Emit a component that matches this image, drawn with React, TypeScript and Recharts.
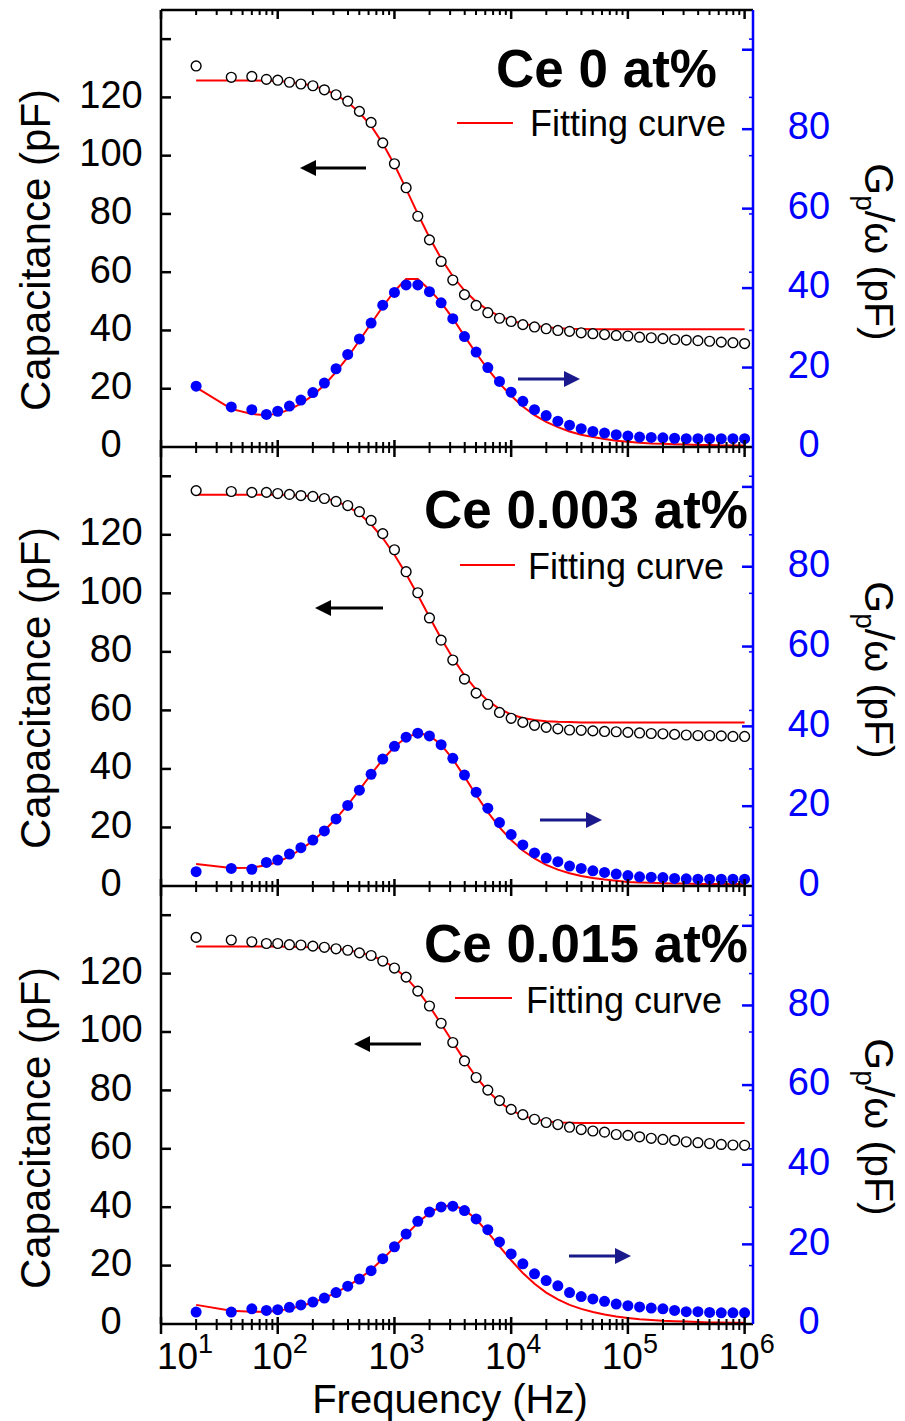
import React from "react";
import { ComposedChart, Line, XAxis, YAxis, ReferenceLine } from "recharts";

const W = 905;
const H = 1421;
const PLOT_W = 592; // 161 .. 753
const FONT = '"Liberation Sans", Arial, sans-serif';
const BLUE = "#0000ff";
const NAVY = "#1a1a8c";
const RED = "#ff0000";

// measurement frequencies (Hz)
const freq = [
  20, 40, 60, 80,
  100, 126, 158, 200, 251, 316, 398, 501, 631, 794,
  1000, 1259, 1585, 1995, 2512, 3162, 3981, 5012, 6310, 7943,
  10000, 12589, 15849, 19953, 25119, 31623, 39811, 50119, 63096, 79433,
  100000, 125893, 158489, 199526, 251189, 316228, 398107, 501187, 630957, 794328,
  1000000,
];

// Ce 0 at%
const cap0 = [
  130.8, 126.9, 127.2, 126.2,
  125.9, 125.2, 124.6, 124.0, 122.6, 120.9, 118.7, 115.2, 111.4, 104.4,
  97.2, 89.0, 79.2, 71.1, 63.7, 57.3, 52.3, 48.6, 46.1, 44.2,
  43.1, 42.0, 41.2, 40.6, 40.0, 39.7, 39.2, 38.9, 38.6, 38.3,
  38.1, 37.7, 37.5, 37.2, 36.9, 36.7, 36.5, 36.3, 36.0, 35.8,
  35.5,
];
const capFit0 = [
  125.8, 125.8, 125.8, 125.7,
  125.6, 125.3, 124.8, 124.0, 122.8, 120.9, 118.3, 114.8, 110.2, 104.2,
  96.9, 88.6, 80.0, 71.9, 64.7, 58.6, 53.7, 49.9, 47.0, 44.9,
  43.4, 42.3, 41.6, 41.1, 40.8, 40.6, 40.5, 40.4, 40.4, 40.4,
  40.4, 40.4, 40.4, 40.4, 40.4, 40.4, 40.4, 40.4, 40.4, 40.4,
  40.4,
];
const gp0 = [
  15.3, 10.1, 9.4, 8.2,
  9.0, 10.3, 11.8, 13.7, 16.1, 19.7, 23.3, 27.2, 31.2, 35.7,
  38.9, 40.8, 40.8, 39.1, 36.3, 32.3, 27.8, 23.9, 20.0, 16.5,
  13.8, 11.5, 9.4, 7.9, 6.5, 5.5, 4.6, 3.9, 3.5, 3.1,
  2.8, 2.5, 2.4, 2.3, 2.2, 2.1, 2.1, 2.1, 2.1, 2.1,
  2.1,
];
const gpFit0 = [
  15.0, 9.6, 8.3, 8.0,
  8.4, 9.4, 10.9, 13.0, 15.6, 18.9, 22.6, 26.8, 31.1, 35.3,
  39.2, 42.3, 42.3, 39.6, 36.4, 32.4, 27.9, 23.6, 19.6, 16.0,
  12.9, 10.2, 8.0, 6.3, 5.0, 3.9, 3.1, 2.5, 2.0, 1.6,
  1.3, 1.1, 0.9, 0.8, 0.7, 0.6, 0.5, 0.5, 0.4, 0.4,
  0.4,
];

// Ce 0.003 at%
const cap1 = [
  135.1, 134.8, 134.5, 134.5,
  134.1, 133.8, 133.4, 133.1, 132.4, 131.4, 130.0, 127.9, 124.9, 120.4,
  114.9, 107.4, 100.2, 91.6, 84.0, 77.2, 70.7, 65.9, 62.1, 59.3,
  57.3, 55.9, 54.9, 54.2, 53.7, 53.3, 53.2, 53.0, 52.8, 52.7,
  52.5, 52.3, 52.1, 52.0, 51.8, 51.6, 51.4, 51.4, 51.3, 51.1,
  51.1,
];
const capFit1 = [
  133.7, 133.7, 133.7, 133.7,
  133.7, 133.6, 133.4, 133.1, 132.6, 131.5, 129.7, 127.2, 123.6, 118.9,
  113.2, 106.6, 99.4, 91.9, 84.6, 77.9, 72.0, 67.1, 63.3, 60.5,
  58.6, 57.4, 56.7, 56.3, 56.1, 56.0, 55.9, 55.9, 55.9, 55.9,
  55.9, 55.9, 55.9, 55.9, 55.9, 55.9, 55.9, 55.9, 55.9, 55.9,
  55.9,
];
const gp1 = [
  3.6, 4.4, 4.2, 5.9,
  6.5, 8.0, 9.6, 11.5, 13.8, 16.8, 20.2, 24.0, 28.0, 31.8,
  35.0, 37.3, 38.3, 37.6, 35.4, 32.0, 27.8, 23.5, 19.5, 15.9,
  12.9, 10.3, 8.3, 7.0, 6.1, 5.0, 4.4, 3.8, 3.4, 3.0,
  2.6, 2.3, 2.2, 2.1, 1.9, 1.8, 1.7, 1.7, 1.7, 1.7,
  1.7,
];
const gpFit1 = [
  5.5, 4.5, 4.6, 5.2,
  6.0, 7.4, 9.2, 11.3, 13.9, 16.9, 20.3, 24.1, 28.0, 31.7,
  34.9, 37.2, 38.3, 37.7, 35.4, 31.8, 27.4, 22.8, 18.5, 14.7,
  11.5, 8.9, 6.9, 5.3, 4.1, 3.2, 2.5, 2.0, 1.6, 1.3,
  1.0, 0.9, 0.8, 0.7, 0.6, 0.6, 0.5, 0.5, 0.5, 0.5,
  0.5,
];

// Ce 0.015 at%
const cap2 = [
  132.4, 131.5, 130.9, 130.3,
  130.3, 129.9, 129.8, 129.4, 129.0, 128.5, 128.0, 127.1, 126.2, 124.3,
  121.9, 118.8, 114.0, 108.9, 103.0, 96.4, 90.1, 84.4, 80.1, 76.5,
  73.5, 71.7, 70.1, 69.0, 68.3, 67.4, 66.6, 66.1, 65.7, 64.9,
  64.6, 64.1, 63.6, 63.2, 62.9, 62.4, 62.1, 61.8, 61.5, 61.3,
  61.2,
];
const capFit2 = [
  129.3, 129.3, 129.3, 129.3,
  129.3, 129.2, 129.1, 129.0, 128.8, 128.5, 128.0, 127.3, 126.2, 124.5,
  122.0, 118.6, 114.2, 108.8, 102.8, 96.5, 90.3, 84.6, 79.8, 76.0,
  73.2, 71.3, 70.1, 69.4, 69.0, 68.9, 68.8, 68.8, 68.8, 68.8,
  68.8, 68.8, 68.8, 68.8, 68.8, 68.8, 68.8, 68.8, 68.8, 68.8,
  68.8,
];
const gp2 = [
  3.0, 3.0, 3.8, 3.4,
  3.6, 4.2, 4.8, 5.5, 6.5, 7.9, 9.5, 11.3, 13.4, 16.4,
  19.4, 22.6, 25.8, 28.1, 29.4, 29.6, 28.5, 26.4, 23.7, 20.6,
  17.6, 15.1, 12.6, 10.9, 9.6, 7.9, 6.9, 6.3, 5.7, 5.0,
  4.6, 4.3, 4.0, 3.8, 3.4, 3.1, 3.1, 2.9, 2.8, 2.8,
  2.8,
];
const gpFit2 = [
  4.8, 3.3, 3.1, 3.1,
  3.3, 3.8, 4.5, 5.4, 6.5, 7.9, 9.5, 11.4, 13.6, 16.3,
  19.3, 22.4, 25.4, 27.9, 29.5, 29.8, 28.7, 26.3, 23.0, 19.5,
  16.0, 12.8, 10.1, 7.9, 6.2, 4.8, 3.8, 3.0, 2.4, 1.9,
  1.5, 1.2, 1.0, 0.8, 0.7, 0.6, 0.5, 0.4, 0.4, 0.3,
  0.3,
];

// axes
const decades = [10, 100, 1000, 10000, 100000, 1000000];
const minorSteps = [1, 2, 3, 4, 5, 6, 7, 8, 9];
const freqTicks = decades
  .slice(0, 5)
  .flatMap((d) => minorSteps.map((m) => d * m))
  .concat([1000000]);
const capTicks = [0, 20, 40, 60, 80, 100, 120, 140];
const capLabels = [0, 20, 40, 60, 80, 100, 120];
const gpTicks = [0, 20, 40, 60, 80, 100];
const gpLabels = [0, 20, 40, 60, 80];

function FreqTick(props: any) {
  const { x, y, payload, showLabel, topOffset } = props;
  const v = payload.value;
  const major = decades.includes(v);
  const exp = Math.round(Math.log10(v));
  return (
    <g>
      <line
        x1={x}
        x2={x}
        y1={y - (major ? 7 : 5)}
        y2={y + (major ? 10 : 6)}
        stroke="#000"
        strokeWidth={major ? 2.5 : 2}
      />
      {topOffset ? (
        <line
          x1={x}
          x2={x}
          y1={y - topOffset}
          y2={y - topOffset + (major ? 9 : 5)}
          stroke="#000"
          strokeWidth={major ? 2.5 : 2}
        />
      ) : null}
      {showLabel && major ? (
        <text
          x={v === 10 ? x + 24 : x + 2}
          y={y + 45}
          textAnchor="middle"
          fontFamily={FONT}
          fontSize={37}
          fill="#000"
        >
          10
          <tspan dy={-16} fontSize={27}>
            {exp}
          </tspan>
        </text>
      ) : null}
    </g>
  );
}

function CapTick(props: any) {
  const { x, y, payload } = props;
  const v = payload.value;
  return (
    <g>
      {v > 0 ? (
        <>
          <line x1={x} x2={x + 10} y1={y} y2={y} stroke="#000" strokeWidth={2.5} />
          <line x1={x + PLOT_W} x2={x + PLOT_W - 4} y1={y} y2={y} stroke={BLUE} strokeWidth={1.5} />
        </>
      ) : null}
      {capLabels.includes(v) ? (
        <text
          x={x - 50}
          y={y - 3}
          dy="0.35em"
          textAnchor="middle"
          fontFamily={FONT}
          fontSize={38}
          fill="#000"
        >
          {v}
        </text>
      ) : null}
    </g>
  );
}

function GpTick(props: any) {
  const { x, y, payload } = props;
  const v = payload.value;
  return (
    <g>
      {v > 0 ? <line x1={x} x2={x - 11} y1={y} y2={y} stroke={BLUE} strokeWidth={2.5} /> : null}
      {gpLabels.includes(v) ? (
        <text
          x={x + 56}
          y={y - 3}
          dy="0.35em"
          textAnchor="middle"
          fontFamily={FONT}
          fontSize={38}
          fill={BLUE}
        >
          {v}
        </text>
      ) : null}
    </g>
  );
}

const openDot = (p: any) => (
  <circle key={`o${p.index}`} cx={p.cx} cy={p.cy} r={4.9} fill="#fff" stroke="#000" strokeWidth={1.4} />
);
const blueDot = (p: any) => (
  <circle key={`b${p.index}`} cx={p.cx} cy={p.cy} r={5.5} fill={BLUE} stroke="none" />
);

interface PanelProps {
  top: number;
  bottom: number;
  cap: number[];
  capFit: number[];
  gp: number[];
  gpFit: number[];
  first?: boolean;
  last?: boolean;
}

function Panel({ top, bottom, cap, capFit, gp, gpFit, first, last }: PanelProps) {
  const data = freq.map((f, i) => ({
    f,
    c: cap[i],
    cf: capFit[i],
    g: gp[i],
    gf: gpFit[i],
  }));
  const plotH = bottom - top;
  return (
    <div style={{ position: "absolute", left: 0, top: 0 }}>
      <ComposedChart
        width={W}
        height={H}
        data={data}
        margin={{ top, right: 0, bottom: H - bottom - 1, left: 0 }}
      >
        <XAxis
          dataKey="f"
          type="number"
          scale="log"
          domain={[10, 1180000]}
          allowDataOverflow
          ticks={freqTicks}
          interval={0}
          height={1}
          tickSize={0}
          tickMargin={0}
          tickLine={false}
          axisLine={{ stroke: "#000", strokeWidth: 2.5 }}
          tick={(p: any) => (
            <FreqTick x={p.x} y={p.y} payload={p.payload} showLabel={last} topOffset={first ? plotH : 0} />
          )}
        />
        <YAxis
          yAxisId="c"
          orientation="left"
          width={161}
          domain={[0, 150]}
          ticks={capTicks}
          interval={0}
          allowDataOverflow
          tickSize={0}
          tickMargin={0}
          tickLine={false}
          axisLine={{ stroke: "#000", strokeWidth: 2.5 }}
          tick={(p: any) => <CapTick x={p.x} y={p.y} payload={p.payload} />}
        />
        <YAxis
          yAxisId="g"
          orientation="right"
          width={152}
          domain={[0, 110]}
          ticks={gpTicks}
          interval={0}
          allowDataOverflow
          tickSize={0}
          tickMargin={0}
          tickLine={false}
          axisLine={{ stroke: BLUE, strokeWidth: 2.5 }}
          tick={(p: any) => <GpTick x={p.x} y={p.y} payload={p.payload} />}
        />
        {first ? <ReferenceLine yAxisId="c" y={150} stroke="#000" strokeWidth={2.5} /> : null}
        <Line yAxisId="c" dataKey="c" stroke="none" dot={openDot} activeDot={false} isAnimationActive={false} />
        <Line yAxisId="g" dataKey="g" stroke="none" dot={blueDot} activeDot={false} isAnimationActive={false} />
        <Line yAxisId="c" dataKey="cf" type="linear" stroke={RED} strokeWidth={2} dot={false} activeDot={false} isAnimationActive={false} />
        <Line yAxisId="g" dataKey="gf" type="linear" stroke={RED} strokeWidth={2} dot={false} activeDot={false} isAnimationActive={false} />
      </ComposedChart>
    </div>
  );
}

function Arrow({ from, to, y, color }: { from: number; to: number; y: number; color: string }) {
  const dir = to > from ? 1 : -1;
  const base = to - dir * 16;
  return (
    <g>
      <line x1={from} x2={base} y1={y} y2={y} stroke={color} strokeWidth={3} />
      <polygon points={`${to},${y} ${base},${y - 8} ${base},${y + 8}`} fill={color} />
    </g>
  );
}

const panelInfo = [
  { title: "Ce 0 at%", titleX: 717, titleY: 87, legY: 123, legX1: 457, legX2: 513, textX: 530, textY: 136, capY: 250, gpY: 252, black: [366, 300, 168], navy: [518, 580, 379] },
  { title: "Ce 0.003 at%", titleX: 748, titleY: 528, legY: 565, legX1: 460, legX2: 515, textX: 528, textY: 579, capY: 688, gpY: 670, black: [383, 315, 608], navy: [540, 602, 820] },
  { title: "Ce 0.015 at%", titleX: 748, titleY: 962, legY: 998, legX1: 455, legX2: 512, textX: 526, textY: 1013, capY: 1128, gpY: 1127, black: [421, 354, 1044], navy: [569, 631, 1256] },
];

function Overlay() {
  return (
    <svg width={W} height={H} style={{ position: "absolute", left: 0, top: 0, pointerEvents: "none" }}>
      {panelInfo.map((p) => (
        <g key={p.title}>
          <text x={p.titleX} y={p.titleY} textAnchor="end" fontFamily={FONT} fontWeight="bold" fontSize={53} fill="#000">
            {p.title}
          </text>
          <line x1={p.legX1} x2={p.legX2} y1={p.legY} y2={p.legY} stroke={RED} strokeWidth={2} />
          <text x={p.textX} y={p.textY} fontFamily={FONT} fontSize={36} fill="#000">
            Fitting curve
          </text>
          <text
            transform={`translate(50, ${p.capY}) rotate(-90)`}
            textAnchor="middle"
            fontFamily={FONT}
            fontSize={42}
            fill="#000"
          >
            Capacitance (pF)
          </text>
          <text
            transform={`translate(865, ${p.gpY}) rotate(90)`}
            textAnchor="middle"
            fontFamily={FONT}
            fontSize={41}
            fill="#000"
          >
            G
            <tspan dy={9} fontSize={28}>p</tspan>
            <tspan dy={-9}>/ω (pF)</tspan>
          </text>
          <Arrow from={p.black[0]} to={p.black[1]} y={p.black[2]} color="#000" />
          <Arrow from={p.navy[0]} to={p.navy[1]} y={p.navy[2]} color={NAVY} />
        </g>
      ))}
      <text x={450} y={1413} textAnchor="middle" fontFamily={FONT} fontSize={40} fill="#000">
        Frequency (Hz)
      </text>
    </svg>
  );
}

export default function App() {
  return (
    <div style={{ position: "absolute", left: 0, top: 0, width: W, height: H, background: "#fff" }}>
      <Panel top={10} bottom={447} cap={cap0} capFit={capFit0} gp={gp0} gpFit={gpFit0} first />
      <Panel top={447} bottom={886} cap={cap1} capFit={capFit1} gp={gp1} gpFit={gpFit1} />
      <Panel top={886} bottom={1324} cap={cap2} capFit={capFit2} gp={gp2} gpFit={gpFit2} last />
      <Overlay />
    </div>
  );
}
